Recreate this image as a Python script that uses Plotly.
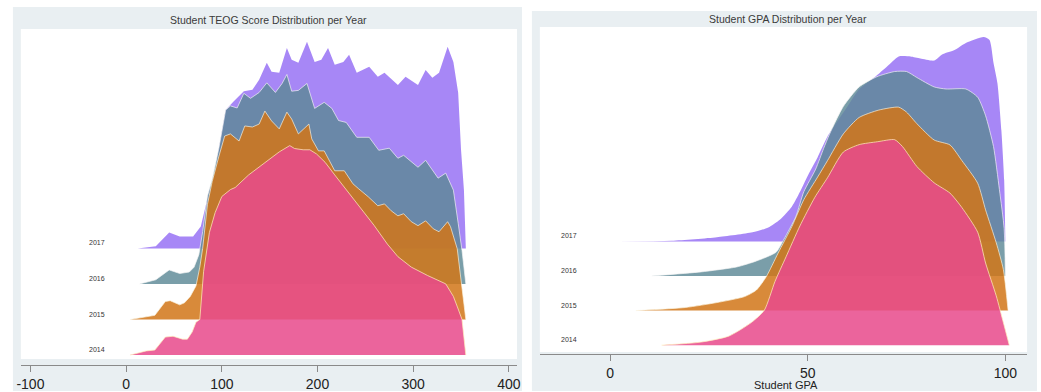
import plotly.graph_objects as go

W, H = 1041, 392

years = ["2014", "2015", "2016", "2017"]

# ---- TEOG score densities (relative height, peak ~ 1) ----
teog_2014_x = [4, 21, 30, 41, 49, 59, 64, 69, 73, 77, 81, 87, 93, 100, 109, 114, 128, 145, 160, 171,
               176, 185, 192, 199, 208, 218, 232, 246, 259, 273, 284, 298, 315, 334, 342, 347, 351, 355]
teog_2014_h = [0, 0.02, 0.024, 0.086, 0.09, 0.076, 0.076, 0.11, 0.157, 0.17, 0.40, 0.585, 0.68, 0.757,
               0.79, 0.80, 0.86, 0.92, 0.97, 1.0, 0.986, 0.98, 0.98, 0.96, 0.92, 0.86, 0.78, 0.70, 0.62,
               0.53, 0.47, 0.42, 0.38, 0.34, 0.28, 0.22, 0.17, 0]

teog_2015_x = [4, 30, 41, 46, 56, 61, 67, 73, 77, 80, 85, 90, 97, 103, 109, 118, 124, 132, 139, 145,
               152, 160, 168, 173, 180, 187, 191, 194, 201, 207, 218, 228, 237, 243, 253, 263, 270, 277,
               284, 290, 298, 305, 313, 321, 327, 336, 339, 346, 349, 353, 355]
teog_2015_h = [0, 0.02, 0.086, 0.09, 0.07, 0.08, 0.11, 0.16, 0.25, 0.34, 0.55, 0.66, 0.78, 0.876, 0.886,
               0.852, 0.924, 0.919, 0.933, 0.995, 0.948, 0.91, 0.99, 0.957, 0.886, 0.919, 0.933, 0.862,
               0.805, 0.805, 0.71, 0.71, 0.648, 0.624, 0.586, 0.543, 0.552, 0.519, 0.495, 0.505, 0.467,
               0.448, 0.471, 0.433, 0.419, 0.467, 0.443, 0.338, 0.229, 0.10, 0]

teog_2016_x = [14, 31, 45, 56, 66, 71, 76, 80, 85, 90, 97, 104, 109, 116, 123, 130, 139, 147, 156, 163,
               168, 173, 180, 189, 197, 207, 215, 222, 230, 241, 254, 264, 275, 284, 290, 305, 313, 326,
               334, 342, 347, 351, 355]
teog_2016_h = [0, 0.02, 0.067, 0.05, 0.057, 0.08, 0.14, 0.25, 0.42, 0.50, 0.65, 0.83, 0.85, 0.84, 0.91,
               0.886, 0.914, 0.96, 0.914, 0.957, 1.0, 0.92, 0.924, 0.957, 0.838, 0.867, 0.838, 0.78,
               0.771, 0.70, 0.70, 0.638, 0.648, 0.60, 0.614, 0.557, 0.59, 0.505, 0.529, 0.448, 0.29,
               0.16, 0]

teog_2017_x = [12, 31, 45, 56, 70, 78, 83, 87, 90, 97, 104, 112, 123, 132, 139, 147, 152, 160, 168, 173,
               180, 189, 197, 204, 211, 218, 227, 233, 241, 254, 263, 270, 284, 292, 305, 313, 320, 327,
               336, 342, 347, 350, 353, 355]
teog_2017_h = [0, 0.01, 0.076, 0.057, 0.057, 0.105, 0.2, 0.28, 0.295, 0.486, 0.66, 0.70, 0.75, 0.757,
               0.805, 0.886, 0.843, 0.838, 0.957, 0.90, 0.886, 0.986, 0.89, 0.90, 0.957, 0.876, 0.89,
               0.924, 0.838, 0.867, 0.819, 0.838, 0.78, 0.819, 0.78, 0.852, 0.814, 0.838, 0.962, 0.89,
               0.743, 0.47, 0.28, 0]

# ---- GPA densities (relative height, peak ~ 1) ----
gpa_2014_x = [13, 23, 30, 35.7, 39, 41.7, 44.5, 48, 51.8, 55, 59, 63, 67.6, 72, 74, 77.6, 82, 86, 89,
              93, 95, 97.7, 99.5, 101]
gpa_2014_h = [0, 0.015, 0.044, 0.11, 0.17, 0.31, 0.43, 0.58, 0.72, 0.815, 0.94, 0.976, 0.99, 1.0, 0.966,
              0.87, 0.79, 0.74, 0.67, 0.55, 0.40, 0.24, 0.11, 0]

gpa_2015_x = [6.5, 19, 27, 34, 37, 39.5, 42.5, 46, 49, 52.5, 55, 59, 63, 68, 73, 75, 77.6, 82, 86, 89,
              93, 95, 97.7, 99.5, 100.7]
gpa_2015_h = [0, 0.015, 0.039, 0.068, 0.10, 0.165, 0.28, 0.41, 0.54, 0.65, 0.73, 0.86, 0.94, 0.976,
              0.99, 0.966, 0.91, 0.83, 0.806, 0.73, 0.62, 0.49, 0.33, 0.2, 0]

gpa_2016_x = [10.5, 23, 32, 37, 42, 44, 47, 49, 52, 54, 55.5, 59, 63, 67.5, 72, 75, 77.6, 82, 85, 90,
              93, 95, 97, 98.5, 99.7, 100]
gpa_2016_h = [0, 0.02, 0.044, 0.073, 0.116, 0.18, 0.29, 0.41, 0.52, 0.62, 0.69, 0.825, 0.92, 0.97,
              0.995, 0.995, 0.966, 0.92, 0.91, 0.91, 0.87, 0.78, 0.63, 0.42, 0.23, 0]

gpa_2017_x = [2, 15.6, 27, 36, 40, 43, 46, 48, 50, 52.5, 55, 60, 63, 67, 70, 73, 76, 78.5, 82, 84, 87,
              90, 94.5, 96, 97, 98, 99, 99.7, 100]
gpa_2017_h = [0, 0.003, 0.02, 0.044, 0.068, 0.107, 0.17, 0.24, 0.32, 0.41, 0.51, 0.655, 0.74, 0.80,
              0.85, 0.90, 0.90, 0.89, 0.88, 0.91, 0.93, 0.966, 0.995, 0.98, 0.87, 0.77, 0.54, 0.30, 0]

teog_tick_vals = [-100, 0, 100, 200, 300, 400]
teog_tick_text = ["-100", "0", "100", "200", "300", "400"]
gpa_tick_vals = [0, 50, 100]
gpa_tick_text = ["0", "50", "100"]

# ---- styles ----
fills = {
    "2017": "rgba(160,125,245,0.92)",
    "2016": "rgba(93,137,150,0.82)",
    "2015": "rgba(209,118,24,0.85)",
    "2014": "rgba(232,74,140,0.86)",
}
lines = {
    "2017": "rgba(160,125,245,0.0)",
    "2016": "rgba(245,245,245,0.85)",
    "2015": "rgba(250,245,225,0.85)",
    "2014": "rgba(255,240,190,0.9)",
}
FONT = "Liberation Sans, Arial, sans-serif"

def px_x(p):
    return p / W

def px_y(p):
    return 1 - p / H

fig = go.Figure()

def add_ridge(x, h, offset, scale, year, xa, ya, shape):
    fig.add_trace(go.Scatter(x=x, y=[offset] * len(x), mode="lines",
                             line=dict(width=0, color="rgba(0,0,0,0)"),
                             hoverinfo="skip", showlegend=False, xaxis=xa, yaxis=ya))
    line = dict(width=0.8, color=lines[year], shape=shape)
    if shape == "spline":
        line["smoothing"] = 0.6
    fig.add_trace(go.Scatter(x=x, y=[offset + scale * v for v in h], mode="lines",
                             fill="tonexty", fillcolor=fills[year], line=line,
                             name=year, showlegend=False, xaxis=xa, yaxis=ya))

K1, K2 = 5.89, 5.94
teog = {"2014": (teog_2014_x, teog_2014_h), "2015": (teog_2015_x, teog_2015_h),
        "2016": (teog_2016_x, teog_2016_h), "2017": (teog_2017_x, teog_2017_h)}
gpa = {"2014": (gpa_2014_x, gpa_2014_h), "2015": (gpa_2015_x, gpa_2015_h),
       "2016": (gpa_2016_x, gpa_2016_h), "2017": (gpa_2017_x, gpa_2017_h)}

for i in [3, 2, 1, 0]:
    y = years[i]
    add_ridge(*teog[y], i, K1, y, "x", "y", "linear")
for i in [3, 2, 1, 0]:
    y = years[i]
    add_ridge(*gpa[y], i, K2, y, "x2", "y2", "spline")

annotations = []
for i, y in enumerate(years):
    annotations.append(dict(x=-30, y=i, xref="x", yref="y", text=y, showarrow=False,
                            xanchor="center", yanchor="bottom", font=dict(size=7, color="#333", family=FONT)))
    annotations.append(dict(x=-10.5, y=i, xref="x2", yref="y2", text=y, showarrow=False,
                            xanchor="center", yanchor="bottom", font=dict(size=7, color="#333", family=FONT)))

annotations += [
    dict(x=px_x(267), y=px_y(20), xref="paper", yref="paper", text="Student TEOG Score Distribution per Year",
         showarrow=False, xanchor="center", yanchor="middle", font=dict(size=10.5, color="#3a3a3a", family=FONT)),
    dict(x=px_x(790), y=px_y(19), xref="paper", yref="paper", text="Student GPA Distribution per Year",
         showarrow=False, xanchor="center", yanchor="middle", font=dict(size=10.5, color="#3a3a3a", family=FONT)),
    dict(x=px_x(788), y=px_y(386), xref="paper", yref="paper", text="Student GPA",
         showarrow=False, xanchor="center", yanchor="middle", font=dict(size=11, color="#222", family=FONT)),
]

GREY = "#e9eff2"
shapes = [
    dict(type="rect", xref="paper", yref="paper", x0=px_x(9), x1=px_x(522), y0=0, y1=px_y(7),
         fillcolor=GREY, line=dict(width=0), layer="below"),
    dict(type="rect", xref="paper", yref="paper", x0=px_x(532), x1=1, y0=0, y1=px_y(11),
         fillcolor=GREY, line=dict(width=0), layer="below"),
    dict(type="rect", xref="paper", yref="paper", x0=px_x(17), x1=px_x(517), y0=px_y(360), y1=px_y(29),
         fillcolor="white", line=dict(width=0), layer="below"),
    dict(type="rect", xref="paper", yref="paper", x0=px_x(540), x1=px_x(1031), y0=px_y(353), y1=px_y(27),
         fillcolor="white", line=dict(width=0), layer="below"),
]

axis_common = dict(showgrid=False, zeroline=False, showline=True, linecolor="#8a8a8a", linewidth=1,
                   ticks="outside", ticklen=6, tickwidth=1, tickcolor="#8a8a8a",
                   tickfont=dict(size=14, color="#222", family=FONT), fixedrange=True)

fig.update_layout(
    width=W, height=H, margin=dict(l=0, r=0, t=0, b=0),
    paper_bgcolor="white", plot_bgcolor="rgba(0,0,0,0)",
    showlegend=False,
    xaxis=dict(domain=[px_x(17), px_x(517)], range=[-110, 408.5], anchor="free", position=px_y(366),
               tickmode="array", tickvals=teog_tick_vals, ticktext=teog_tick_text, **axis_common),
    yaxis=dict(domain=[px_y(360), px_y(29)], range=[-0.112, 9.17], visible=False, fixedrange=True),
    xaxis2=dict(domain=[px_x(540), px_x(1031)], range=[-17.8, 105.5], anchor="free", position=px_y(355),
                tickmode="array", tickvals=gpa_tick_vals, ticktext=gpa_tick_text, **axis_common),
    yaxis2=dict(domain=[px_y(353), px_y(27)], range=[-0.2, 9.2], visible=False, fixedrange=True),
    annotations=annotations,
    shapes=shapes,
)

fig.write_html("out.html")
